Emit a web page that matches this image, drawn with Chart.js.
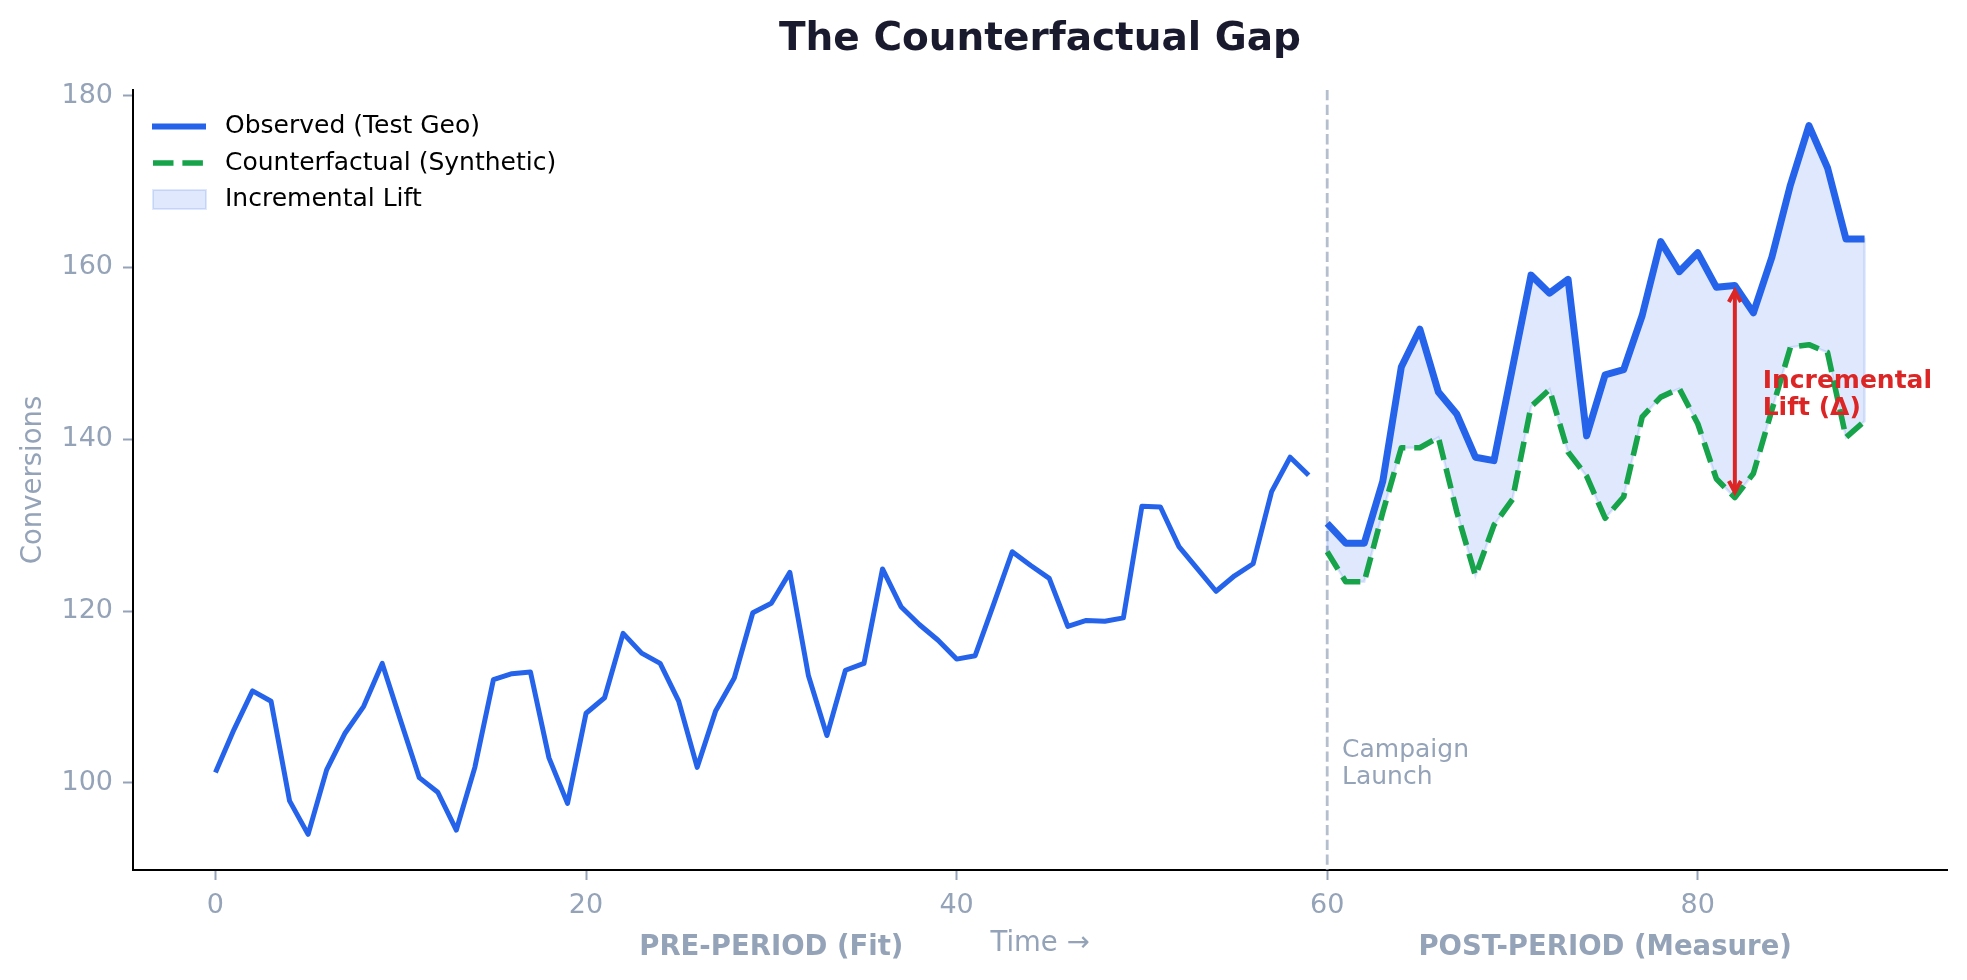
<!DOCTYPE html>
<html>
<head>
<meta charset="utf-8">
<title>The Counterfactual Gap</title>
<script src="https://cdn.jsdelivr.net/npm/chart.js@4.4.1/dist/chart.umd.min.js"></script>
<style>
  html, body { margin: 0; padding: 0; background: #fff; }
  #wrap { width: 1967px; height: 980px; }
</style>
</head>
<body>
<div id="wrap"><canvas id="gapChart" width="1967" height="980"></canvas></div>
<script>
// observed conversions before the campaign (t = 0..59)
const preObserved = [
  101.2, 106.2, 110.7, 109.5, 97.9, 94.0, 101.5, 105.8, 108.9, 113.9,
  107.2, 100.6, 98.9, 94.5, 101.8, 112.0, 112.7, 112.9, 102.9, 97.6,
  108.1, 109.9, 117.4, 115.1, 113.9, 109.5, 101.8, 108.4, 112.2, 119.8,
  120.9, 124.5, 112.5, 105.5, 113.1, 113.9, 124.9, 120.5, 118.4, 116.6,
  114.4, 114.8, 120.8, 126.9, 125.3, 123.8, 118.2, 118.9, 118.8, 119.2,
  132.2, 132.1, 127.5, 124.9, 122.3, 124.1, 125.5, 133.9, 137.9, 135.8
];
// observed conversions after launch (t = 60..89)
const postObserved = [
  130.2, 127.9, 127.9, 135.1, 148.4, 152.8, 145.5, 142.9, 137.9, 137.5,
  148.3, 159.1, 157.0, 158.6, 140.4, 147.5, 148.1, 154.4, 163.0, 159.5,
  161.7, 157.7, 157.9, 154.7, 161.2, 169.6, 176.5, 171.6, 163.3, 163.3
];
// synthetic control (t = 60..89)
const counterfactual = [
  126.9, 123.4, 123.4, 131.5, 139.0, 139.0, 140.2, 131.5, 124.1, 130.0,
  133.0, 143.8, 145.8, 138.5, 135.7, 130.8, 133.3, 142.6, 144.9, 145.9,
  141.8, 135.4, 133.2, 136.0, 143.4, 150.7, 151.0, 150.1, 140.2, 142.1
];
const launchIndex = 60;
const liftIndex = 82;
const xTicks = [0, 20, 40, 60, 80];
const yTicks = [100, 120, 140, 160, 180];
const periodLabels = [
  { x: 30, text: 'PRE-PERIOD (Fit)' },
  { x: 75, text: 'POST-PERIOD (Measure)' }
];
const liftLabel = { x: 83.5, y: 145.2, lines: ['Incremental', 'Lift (Δ)'] };
const launchLabel = { x: 60.8, y: 102.2, lines: ['Campaign', 'Launch'] };

const BLUE = '#2563eb';
const GREEN = '#16a34a';
const RED = '#dc2626';
const GREY = '#94a3b8';
const FONT = '"DejaVu Sans", "Liberation Sans", sans-serif';

const toPoints = (arr, start) => arr.map((v, i) => ({ x: start + i, y: v }));

const upper = toPoints(postObserved, launchIndex);
const lower = toPoints(counterfactual, launchIndex);
const liftShape = upper.concat(lower.slice().reverse(), [upper[0]]);

// extra drawing: launch line, arrow, labels, title, legend
const gapDecor = {
    id: 'gapDecor',
    beforeDatasetsDraw(chart) {
        const { ctx, chartArea, scales: { x } } = chart;
        const px = x.getPixelForValue(launchIndex);
        ctx.save();
        ctx.strokeStyle = 'rgba(148,163,184,0.7)';
        ctx.lineWidth = 2.8;
        ctx.setLineDash([10.3, 4.4]);
        ctx.beginPath();
        ctx.moveTo(px, chartArea.top);
        ctx.lineTo(px, chartArea.bottom);
        ctx.stroke();
        ctx.restore();
    },
    afterDatasetsDraw(chart) {
        const { ctx, scales: { x, y } } = chart;
        const k = liftIndex - launchIndex;
        const ax = x.getPixelForValue(liftIndex);
        const y1 = y.getPixelForValue(postObserved[k]) + 5.6;
        const y2 = y.getPixelForValue(counterfactual[k]) - 5.6;
        ctx.save();
        ctx.strokeStyle = RED;
        ctx.lineWidth = 4;
        ctx.beginPath();
        ctx.moveTo(ax, y1 + 1);
        ctx.lineTo(ax, y2 - 1);
        ctx.stroke();
        ctx.beginPath();
        ctx.moveTo(ax - 6, y1 + 11);
        ctx.lineTo(ax, y1);
        ctx.lineTo(ax + 6, y1 + 11);
        ctx.moveTo(ax - 6, y2 - 11);
        ctx.lineTo(ax, y2);
        ctx.lineTo(ax + 6, y2 - 11);
        ctx.stroke();

        ctx.textBaseline = 'middle';
        ctx.textAlign = 'left';
        ctx.fillStyle = RED;
        ctx.font = 'bold 25px ' + FONT;
        let lx = x.getPixelForValue(liftLabel.x), ly = y.getPixelForValue(liftLabel.y);
        ctx.fillText(liftLabel.lines[0], lx, ly - 13.5);
        ctx.fillText(liftLabel.lines[1], lx, ly + 13.5);

        ctx.fillStyle = GREY;
        ctx.font = '25px ' + FONT;
        lx = x.getPixelForValue(launchLabel.x);
        ly = y.getPixelForValue(launchLabel.y);
        ctx.fillText(launchLabel.lines[0], lx, ly - 13.8);
        ctx.fillText(launchLabel.lines[1], lx, ly + 13.8);
        ctx.restore();
    },
    afterDraw(chart) {
        const { ctx, chartArea, scales: { x } } = chart;
        const midX = (chartArea.left + chartArea.right) / 2;
        ctx.save();
        ctx.textBaseline = 'middle';
        ctx.textAlign = 'center';

        ctx.fillStyle = '#1a1a2e';
        ctx.font = 'bold 39px ' + FONT;
        ctx.fillText('The Counterfactual Gap', midX, 39.5);

        ctx.fillStyle = GREY;
        ctx.font = '27.5px ' + FONT;
        ctx.fillText('Time →', midX, 944);
        ctx.font = 'bold 27.5px ' + FONT;
        periodLabels.forEach(p => ctx.fillText(p.text, x.getPixelForValue(p.x), 948));

        ctx.save();
        ctx.translate(34, (chartArea.top + chartArea.bottom) / 2);
        ctx.rotate(-Math.PI / 2);
        ctx.font = '27.5px ' + FONT;
        ctx.fillText('Conversions', 0, 0);
        ctx.restore();

        // legend
        ctx.textAlign = 'left';
        ctx.font = '25px ' + FONT;
        const rows = [126.5, 163, 199.5];
        ctx.lineWidth = 6;
        ctx.strokeStyle = BLUE;
        ctx.beginPath(); ctx.moveTo(152, rows[0]); ctx.lineTo(206, rows[0]); ctx.stroke();
        ctx.lineWidth = 5.6;
        ctx.strokeStyle = GREEN;
        ctx.setLineDash([20.5, 8.9]);
        ctx.beginPath(); ctx.moveTo(153, rows[1]); ctx.lineTo(206, rows[1]); ctx.stroke();
        ctx.setLineDash([]);
        ctx.fillStyle = 'rgba(37,99,235,0.15)';
        ctx.fillRect(153, rows[2] - 9.5, 53, 19);
        ctx.strokeStyle = 'rgba(37,99,235,0.15)';
        ctx.lineWidth = 2;
        ctx.strokeRect(153, rows[2] - 9.5, 53, 19);
        ctx.fillStyle = '#000';
        ctx.fillText('Observed (Test Geo)', 225, rows[0]);
        ctx.fillText('Counterfactual (Synthetic)', 225, rows[1]);
        ctx.fillText('Incremental Lift', 225, rows[2]);
        ctx.restore();
    }
};

const ctx = document.getElementById('gapChart').getContext('2d');
const chart = new Chart(ctx, {
    type: 'line',
    data: {
        datasets: [
            {
                label: 'Incremental Lift',
                data: liftShape,
                fill: 'shape',
                backgroundColor: 'rgba(37,99,235,0.15)',
                borderColor: 'rgba(37,99,235,0.15)',
                borderWidth: 2.5,
                pointRadius: 0,
                tension: 0,
                order: 4
            },
            {
                label: 'Counterfactual (Synthetic)',
                data: lower,
                borderColor: GREEN,
                borderWidth: 5.6,
                borderDash: [20.5, 8.9],
                borderJoinStyle: 'round',
                fill: false,
                pointRadius: 0,
                tension: 0,
                order: 3
            },
            {
                label: 'Observed (pre)',
                data: toPoints(preObserved, 0),
                borderColor: BLUE,
                borderWidth: 5,
                borderJoinStyle: 'round',
                fill: false,
                pointRadius: 0,
                tension: 0,
                order: 2
            },
            {
                label: 'Observed (Test Geo)',
                data: upper,
                borderColor: BLUE,
                borderWidth: 7,
                borderJoinStyle: 'round',
                fill: false,
                pointRadius: 0,
                tension: 0,
                order: 1
            }
        ]
    },
    options: {
        responsive: false,
        devicePixelRatio: 1,
        animation: false,
        events: [],
        layout: { padding: { top: 90, right: 20, left: 0, bottom: 0 } },
        plugins: {
            legend: { display: false },
            tooltip: { enabled: false },
            title: { display: false }
        },
        scales: {
            x: {
                type: 'linear',
                min: -4.45,
                max: 93.45,
                afterBuildTicks: axis => { axis.ticks = xTicks.map(v => ({ value: v })); },
                afterFit: scale => { scale.height = 110; },
                ticks: {
                    color: GREY,
                    font: { family: FONT, size: 27 },
                    padding: 10,
                    maxRotation: 0,
                    autoSkip: false
                },
                grid: {
                    drawOnChartArea: false,
                    tickLength: 10,
                    tickWidth: 2,
                    tickColor: GREY
                },
                border: { color: '#000', width: 2 }
            },
            y: {
                type: 'linear',
                min: 89.85,
                max: 180.65,
                afterBuildTicks: axis => { axis.ticks = yTicks.map(v => ({ value: v })); },
                afterFit: scale => { scale.width = 133; },
                ticks: {
                    color: GREY,
                    font: { family: FONT, size: 27 },
                    padding: 10
                },
                grid: {
                    drawOnChartArea: false,
                    tickLength: 10,
                    tickWidth: 2,
                    tickColor: GREY
                },
                border: { color: '#000', width: 2 }
            }
        }
    },
    plugins: [gapDecor]
});
</script>
</body>
</html>
